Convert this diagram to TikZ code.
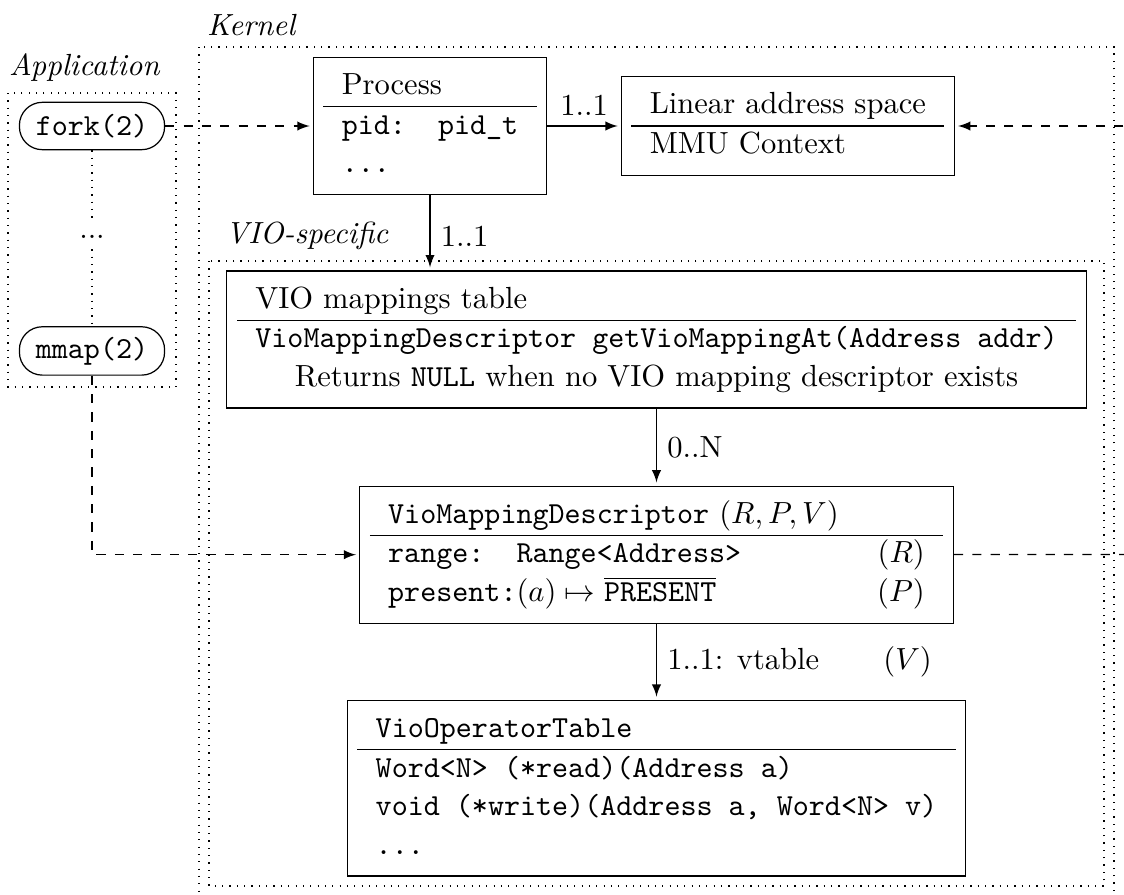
\documentclass[tikz,border=0pt]{standalone}
\usepackage{amsmath}
\usetikzlibrary{arrows}

\renewcommand{\arraystretch}{1.05}

\begin{document}
\begin{tikzpicture}[
            x = 0.3272pt, y = -0.3272pt, % one unit = one pixel of the sketch
            > = latex, % arrow head style
            shorten > = 1pt, % don't touch arrow head to node
            auto
        ]

        \tikzstyle{entity}=[
            draw = black,
            rectangle,
            inner sep = 3.33pt
        ]
        \tikzstyle{syscall}=[
            draw = black,
            rounded corners = 7.5pt,
            minimum width = 47.5pt,
            minimum height = 15.5pt,
            font = \ttfamily
        ]
        \tikzstyle{area}=[dotted]
        \tikzstyle{area label}=[font = \itshape, anchor = base west, inner sep = 0pt]
        \tikzstyle{call}=[->, dashed]

        \useasboundingbox (0,0) rectangle (1124,894);
        \clip (0,0) rectangle (1124,894);

        % application side
        \draw[area] (8,93) rectangle (176,387);
        \node[area label] (applabel) at (8.5,75.5) {Application};
        \node[syscall] (fork) at (92,126) {fork(2)};
        \node (dots) [below of=fork, node distance=36.3pt] {...};
        \node[syscall] (mmap) [below of=fork, node distance=73.6pt] {mmap(2)};
        \draw[area] (fork) -- (dots);
        \draw[area] (dots) -- (mmap);

        % kernel side
        \draw[area] (199,47) rectangle (1114,910);
        \node[area label] (kernlabel) at (206.5,35) {Kernel};
        \draw[area] (209,261) rectangle (1104,886);
        \node[area label] (violabel) at (225,243) {VIO-specific};

        \node[entity] (proc) at (430,126) {%
            \begin{tabular}{l}
                Process \\ \hline
                \texttt{pid:~~pid\_t} \\
                \texttt{...}
            \end{tabular}};
        \node[entity] (las) [right of=proc, node distance=117.1pt] {%
            \begin{tabular}{l}
                Linear address space \\ \hline
                MMU Context
            \end{tabular}};
        \node[entity] (vmt) at (656.5,339.5) {%
            \begin{tabular}{l}
                VIO mappings table \\ \hline
                \texttt{VioMappingDescriptor getVioMappingAt(Address addr)} \\
                \multicolumn{1}{c}{Returns \texttt{NULL} when no VIO mapping descriptor exists}
            \end{tabular}};
        \node[entity] (vmd) [below of=vmt, node distance=70.4pt] {%
            \begin{tabular}{p{148pt}r}
                \multicolumn{2}{l}{\texttt{VioMappingDescriptor} $(R, P, V)$} \\ \hline
                \texttt{range:~~Range<Address>} & $(R)$ \\
                \texttt{present:}$(a) \mapsto \overline{\texttt{PRESENT}}$ & $(P)$
            \end{tabular}};
        \node[entity] (vot) [below of=vmd, node distance=76.4pt] {%
            \begin{tabular}{l}
                \texttt{VioOperatorTable} \\ \hline
                \texttt{Word<N> (*read)(Address a)} \\
                \texttt{void (*write)(Address a, Word<N> v)} \\
                \texttt{...}
            \end{tabular}};

        % free ends leaving the sketch on the right
        \coordinate (lasfar) at (1160,126);
        \coordinate (vmdfar) at (1160,554.5);

        \draw[call] (fork) -- (proc);
        \draw[call] (lasfar) -- (las);
        \draw[call] (mmap) |- (vmd);
        \draw[call] (vmd) -- (vmdfar);

        \draw[->] (proc) -- node {1..1} (las);
        \draw[->] (proc.south) -- node[pos=0.55] {1..1} (proc.south |- vmt.north);
        \draw[->] (vmt) -- node {0..N} (vmd);
        \draw[->] (vmd) -- node {1..1: vtable\hspace{21pt}$(V)$} (vot);

\end{tikzpicture}
\end{document}
